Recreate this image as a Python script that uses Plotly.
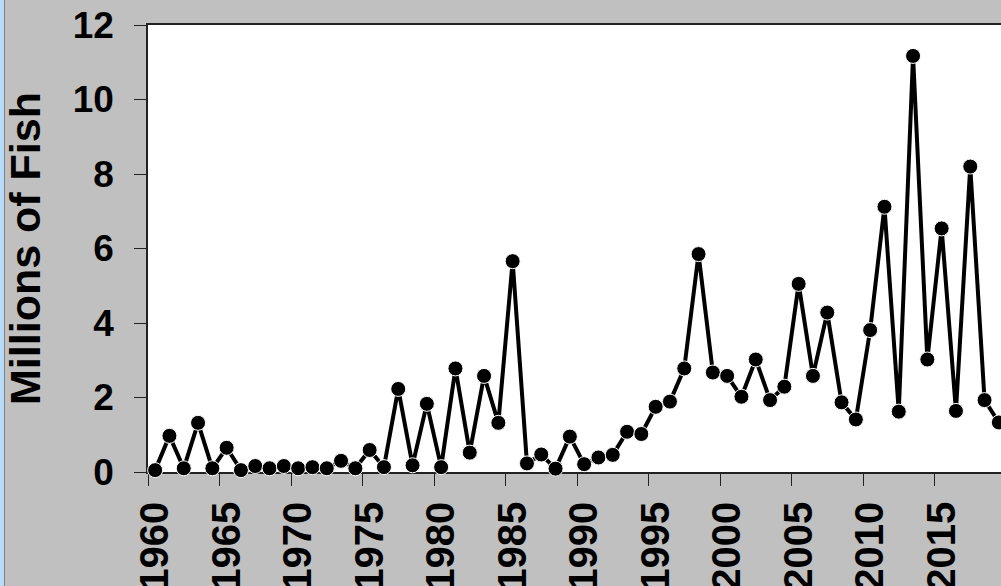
import plotly.graph_objects as go

years = list(range(1960, 2020))
fish_millions = [
    0.05, 0.97, 0.10, 1.32, 0.10, 0.65, 0.05, 0.16, 0.10, 0.16,
    0.10, 0.13, 0.10, 0.30, 0.10, 0.59, 0.13, 2.23, 0.18, 1.83,
    0.13, 2.78, 0.52, 2.58, 1.32, 5.66, 0.23, 0.47, 0.09, 0.95,
    0.21, 0.39, 0.46, 1.08, 1.02, 1.75, 1.89, 2.78, 5.85, 2.67,
    2.58, 2.02, 3.02, 1.93, 2.29, 5.05, 2.58, 4.28, 1.87, 1.41,
    3.81, 7.12, 1.62, 11.17, 3.02, 6.54, 1.64, 8.20, 1.93, 1.33,
]
x_label_years = [1960, 1965, 1970, 1975, 1980, 1985, 1990, 1995, 2000, 2005, 2010, 2015]
y_ticks = [0, 2, 4, 6, 8, 10, 12]

W, H = 1001, 586
L, T, B, R = 148, 25, 114, 0
pw = W - L - R
ph = H - T - B

FONT = "Liberation Sans, Arial, sans-serif"

fig = go.Figure()
fig.add_trace(go.Scatter(
    x=years, y=fish_millions, mode="lines+markers",
    line=dict(color="black", width=4),
    marker=dict(color="black", size=15, line=dict(color="white", width=1)),
    cliponaxis=False, showlegend=False, hoverinfo="x+y",
))

fig.update_layout(
    width=W, height=H,
    margin=dict(l=L, r=R, t=T, b=B, autoexpand=False),
    paper_bgcolor="#c0c0c0", plot_bgcolor="white",
    font=dict(family=FONT, color="black"),
    xaxis=dict(
        range=[1959.5, 1959.5 + pw / 14.3],
        tickmode="array", tickvals=x_label_years,
        ticktext=[str(y) for y in x_label_years],
        tickangle=-90, ticks="", ticklabelstandoff=12,
        tickfont=dict(size=40, family=FONT, weight="bold"),
        showgrid=False, zeroline=False,
        showline=True, linecolor="#222", linewidth=1.5, mirror=True,
        layer="below traces",
        minor=dict(tickmode="linear", tick0=1959.5, dtick=5, ticks="outside",
                   ticklen=12, tickcolor="#222", tickwidth=1.2, showgrid=False),
    ),
    yaxis=dict(
        range=[0, 12], tickvals=y_ticks,
        ticks="outside", ticklen=12, tickcolor="#222", tickwidth=1.2,
        ticklabelstandoff=13,
        tickfont=dict(size=37, family=FONT, weight="bold"),
        showgrid=False, zeroline=False,
        showline=True, linecolor="#222", linewidth=1.5,
        layer="below traces",
        title=dict(text="Millions of Fish", standoff=19,
                   font=dict(size=43, family=FONT, weight="bold")),
    ),
    shapes=[
        dict(type="rect", xref="paper", yref="paper",
             x0=(0 - L) / pw, x1=(4 - L) / pw, y0=-B / ph, y1=1 + T / ph,
             fillcolor="#b8dcfa", line=dict(width=0), layer="above"),
        dict(type="line", xref="paper", yref="paper",
             x0=(4.5 - L) / pw, x1=(4.5 - L) / pw, y0=-B / ph, y1=1 + T / ph,
             line=dict(color="#808080", width=1), layer="above"),
    ],
)

fig.write_html(
    "out.html",
    config={"displayModeBar": False},
    post_script="document.body.style.margin='0';document.body.style.overflow='hidden';",
)
